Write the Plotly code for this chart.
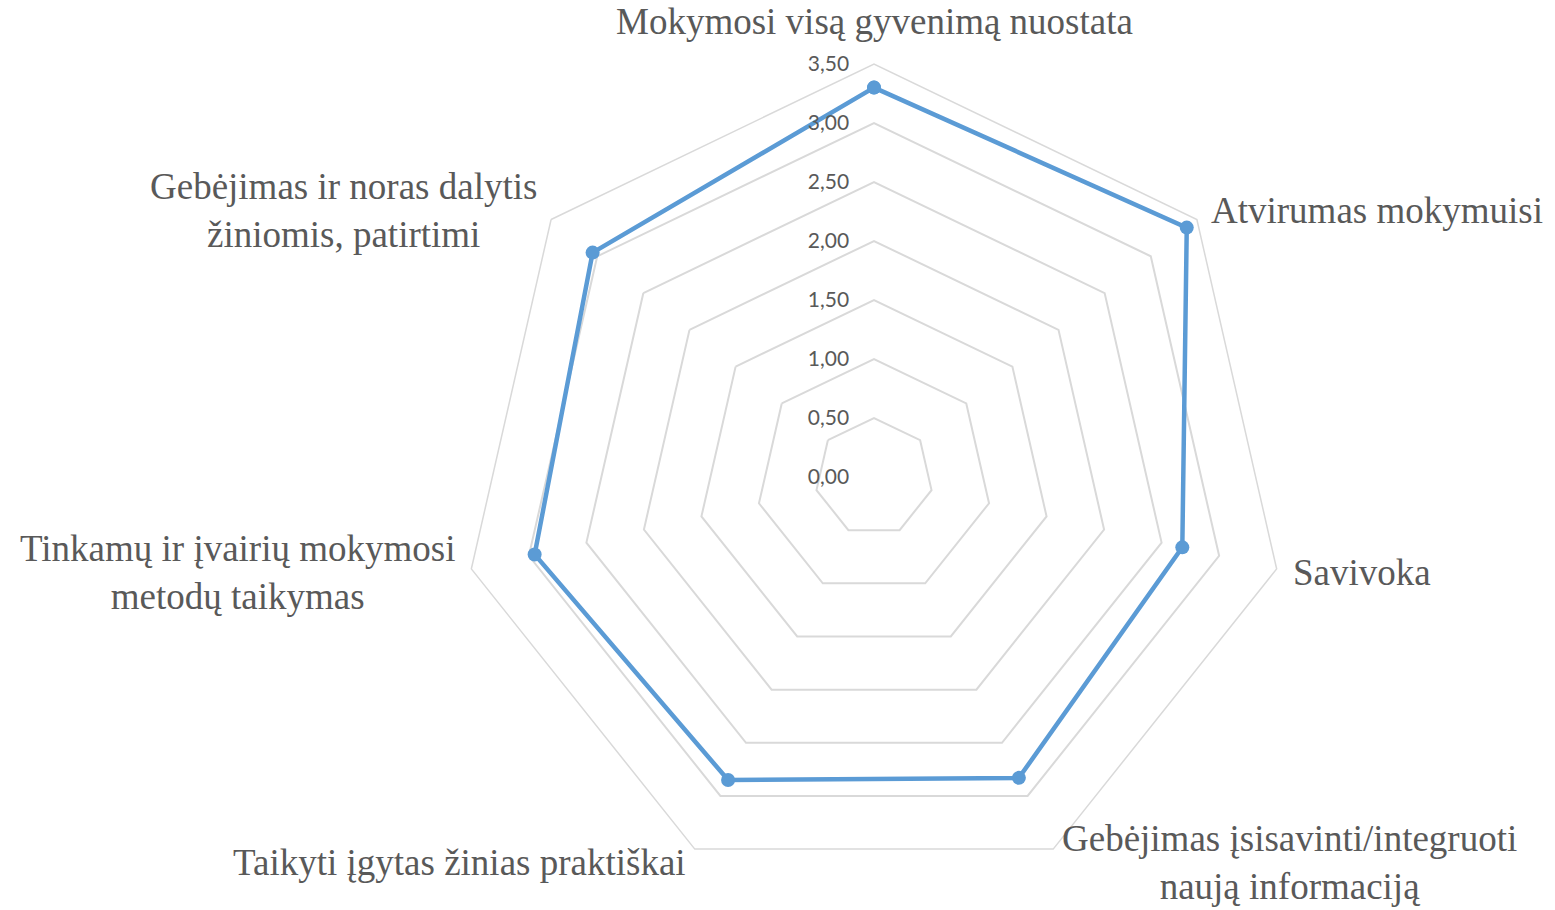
import math
import plotly.graph_objects as go

# ---- data ----
categories = [
    "Mokymosi visą gyvenimą nuostata",
    "Atvirumas mokymuisi",
    "Savivoka",
    "Gebėjimas įsisavinti/integruoti<br>naują informaciją",
    "Taikyti įgytas žinias praktiškai",
    "Tinkamų ir įvairių mokymosi<br>metodų taikymas",
    "Gebėjimas ir noras dalytis<br>žiniomis, patirtimi",
]
values = [3.30, 3.39, 2.68, 2.83, 2.85, 2.95, 3.05]
radial_ticks = [0, 0.5, 1.0, 1.5, 2.0, 2.5, 3.0, 3.5]
r_max = 3.5

# ---- layout geometry ----
W, H = 1555, 910
cx, cy, R = 874, 477, 413
LINE_COLOR = "#5B9BD5"
GRID = "#D9D9D9"
TXT = "#595959"

fig = go.Figure()
fig.add_trace(go.Scatterpolar(
    r=values + values[:1],
    theta=categories + categories[:1],
    mode="lines+markers",
    line=dict(color=LINE_COLOR, width=4.5),
    marker=dict(color=LINE_COLOR, size=14),
    showlegend=False,
    hoverinfo="skip",
))

# category labels placed around the outer polygon
n = len(categories)
pad = 15
annotations = []
for i, cat in enumerate(categories):
    ang = 2 * math.pi * i / n
    s, c = math.sin(ang), math.cos(ang)
    p = pad + (5 if c > 0.9 else 0)
    vx = cx + (R + p) * s
    vy = cy - (R + p) * c
    if s > 0.1:
        xa = "left"
    elif s < -0.1:
        xa = "right"
    else:
        xa = "center"
    ya = "bottom" if c > 0.9 else "middle"
    annotations.append(dict(
        x=vx / W, y=1 - vy / H, xref="paper", yref="paper",
        xanchor=xa, yanchor=ya, align="center", showarrow=False,
        text=cat,
        font=dict(family="Liberation Serif, Times New Roman, serif", size=37, color=TXT),
    ))

fig.update_layout(
    width=W, height=H,
    margin=dict(l=0, r=0, t=0, b=0),
    paper_bgcolor="white",
    plot_bgcolor="white",
    separators=", ",
    polar=dict(
        domain=dict(x=[(cx - R) / W, (cx + R) / W], y=[(H - cy - R) / H, (H - cy + R) / H]),
        gridshape="linear",
        bgcolor="white",
        radialaxis=dict(
            range=[0, r_max],
            tickvals=radial_ticks,
            tickformat=".2f",
            angle=90,
            tickangle=90,
            side="counterclockwise",
            showline=False,
            ticks="outside",
            ticklen=17,
            tickcolor="rgba(0,0,0,0)",
            gridcolor=GRID,
            gridwidth=1.5,
            tickfont=dict(family="Lato, Open Sans, sans-serif", size=21, color=TXT),
        ),
        angularaxis=dict(
            direction="clockwise",
            rotation=90,
            showgrid=False,
            showticklabels=False,
            ticks="",
            showline=True,
            linecolor=GRID,
            linewidth=1.5,
        ),
    ),
    annotations=annotations,
)

fig.write_html("out.html", config={"displayModeBar": False},
               post_script="document.body.style.margin='0';")
